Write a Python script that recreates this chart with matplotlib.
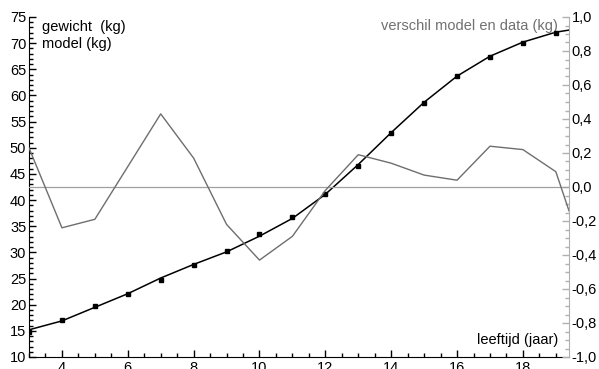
import matplotlib.pyplot as plt
from matplotlib.ticker import MultipleLocator, FuncFormatter

plt.rcParams["font.family"] = ["Liberation Sans", "DejaVu Sans"]

leeftijd = [3, 4, 5, 6, 7, 8, 9, 10, 11, 12, 13, 14, 15, 16, 17, 18, 19]
gewicht = [14.8, 17.0, 19.7, 22.0, 24.7, 27.5, 30.3, 33.5, 36.8, 41.1,
           46.6, 52.8, 58.6, 63.7, 67.3, 70.0, 72.0]

model_leeftijd = [3, 4, 5, 6, 7, 8, 9, 10, 11, 12, 13, 14, 15, 16, 17, 18, 19, 19.4]
model = [15.2, 16.9, 19.5, 22.1, 25.1, 27.7, 30.1, 33.1, 36.5, 41.1,
         46.8, 52.9, 58.7, 63.7, 67.5, 70.2, 72.1, 72.5]

verschil_leeftijd = [3, 4, 5, 6, 7, 8, 9, 10, 11, 12, 13, 14, 15, 16, 17, 18, 19, 19.4]
verschil = [0.23, -0.24, -0.19, 0.12, 0.43, 0.17, -0.22, -0.43, -0.29, -0.02,
            0.19, 0.14, 0.07, 0.04, 0.24, 0.22, 0.09, -0.14]

fig = plt.figure(figsize=(5.99, 3.69), dpi=100)
ax = fig.add_axes([29 / 599, 12 / 369, 540 / 599, 340 / 369])
ax2 = ax.twinx()

ax.plot(model_leeftijd, model, color="black", linewidth=1.1, zorder=3)
ax.plot(leeftijd, gewicht, linestyle="none", marker="s", markersize=2.5,
        color="black", zorder=4)

ax2.axhline(0, color="#a0a0a0", linewidth=0.9)
ax2.plot(verschil_leeftijd, verschil, color="#6e6e6e", linewidth=1.0)

ax.set_xlim(3, 19.4)
ax.set_ylim(10, 75)
ax2.set_ylim(-1, 1)

ax.xaxis.set_major_locator(MultipleLocator(2))
ax.xaxis.set_minor_locator(MultipleLocator(0.5))
ax.yaxis.set_major_locator(MultipleLocator(5))
ax.yaxis.set_minor_locator(MultipleLocator(1))
ax2.yaxis.set_major_locator(MultipleLocator(0.2))
ax2.yaxis.set_minor_locator(MultipleLocator(0.05))
ax2.yaxis.set_major_formatter(FuncFormatter(lambda v, p: f"{v:.1f}".replace(".", ",").replace("-0,0", "0,0")))

ax.tick_params(axis="both", which="major", direction="in", length=5, width=1,
               labelsize=10.5, pad=2)
ax.tick_params(axis="both", which="minor", direction="in", length=3, width=1)
ax.tick_params(axis="x", pad=3)
ax2.tick_params(axis="y", which="major", direction="in", length=5, width=1,
                color="#b0b0b0", labelsize=10.5, pad=2)
ax2.tick_params(axis="y", which="minor", direction="in", length=3, width=1,
                color="#b0b0b0")

for a in (ax, ax2):
    a.spines["top"].set_visible(False)
ax.spines["right"].set_visible(False)
ax2.spines["left"].set_visible(False)
ax2.spines["bottom"].set_visible(False)
ax2.spines["right"].set_color("#b0b0b0")

ax.text(0.024, 0.97, "gewicht  (kg)", transform=ax.transAxes, fontsize=10.5,
        va="center", ha="left")
ax.text(0.024, 0.92, "model (kg)", transform=ax.transAxes, fontsize=10.5,
        va="center", ha="left")
ax.text(0.98, 0.974, "verschil model en data (kg)", transform=ax.transAxes,
        fontsize=10.5, va="center", ha="right", color="#707070")
ax.text(0.98, 0.05, "leeftijd (jaar)", transform=ax.transAxes, fontsize=10.5,
        va="center", ha="right")

fig.savefig("out.png", dpi=100)
